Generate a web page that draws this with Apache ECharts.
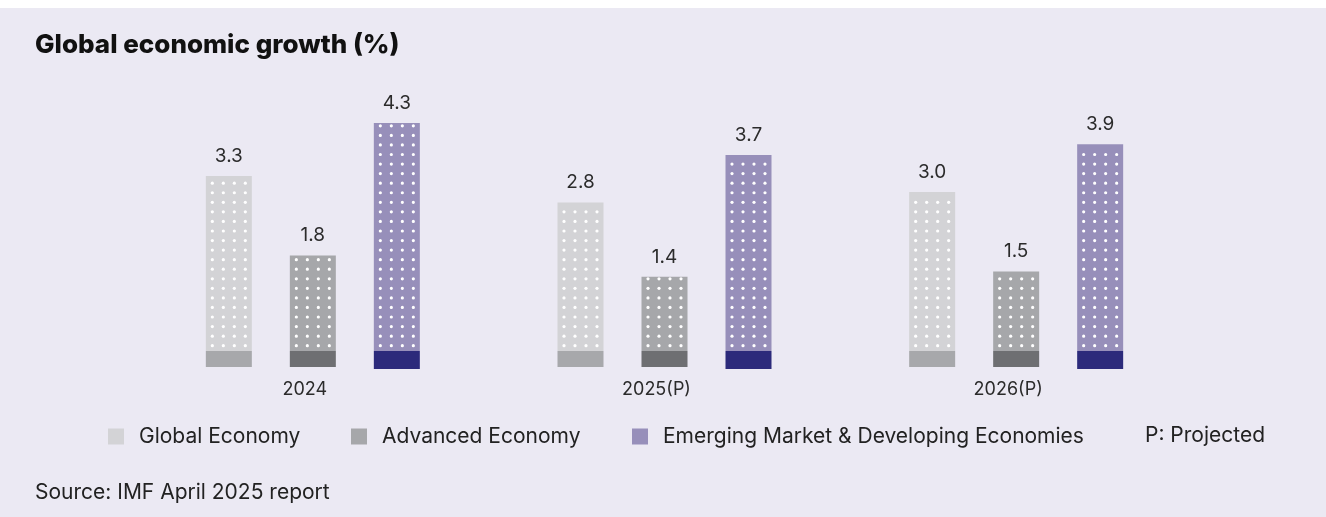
<!DOCTYPE html>
<html>
<head>
<meta charset="utf-8">
<script src="https://cdn.jsdelivr.net/npm/echarts@6/dist/echarts.min.js"></script>
<style>
    html, body { margin: 0; padding: 0; background: #ffffff; }
    #main { position: absolute; left: 0; top: 8px; width: 1326px; height: 509px; background: #ebe9f3; }
</style>
</head>
<body>
<div id="main"></div>
<script>
// 数据
var years = ['2024', '2025(P)', '2026(P)'];
var seriesNames = ['Global Economy', 'Advanced Economy', 'Emerging Market & Developing Economies'];
var globalEconomy = [3.3, 2.8, 3.0];
var advancedEconomy = [1.8, 1.4, 1.5];
var emergingEconomies = [4.3, 3.7, 3.9];

var fillColors = ['#d3d3d6', '#a6a7aa', '#978fba'];
var baseColors = ['#a7a8ab', '#6e6f72', '#2c2a7b'];
var baseDepth = [16, 16, 18];
var FONT = 'Inter, "Noto Sans", sans-serif';

var myChart = echarts.init(document.getElementById('main'));

// 柱子 + 圆点
function makeRender(idx) {
    return function(params, api) {
        var cat = api.value(0);
        var val = api.value(1);
        var top = api.coord([cat, val]);
        var zero = api.coord([cat, 0]);
        var barW = 46;
        var step = 84;
        var left = top[0] + (idx - 1) * step - barW / 2;
        var children = [];
        children.push({
            type: 'rect',
            shape: {x: left, y: top[1], width: barW, height: zero[1] - top[1]},
            style: {fill: fillColors[idx]}
        });
        children.push({
            type: 'rect',
            shape: {x: left, y: zero[1], width: barW, height: baseDepth[idx]},
            style: {fill: baseColors[idx]}
        });
        for (var k = 0; ; k++) {
            var cy = zero[1] - 5.3 - 9.56 * k;
            if (cy < top[1] + 1.5) break;
            for (var c = 0; c < 4; c++) {
                children.push({
                    type: 'circle',
                    shape: {cx: left + 6.5 + 11 * c, cy: cy, r: 1.6},
                    style: {fill: '#ffffff'}
                });
            }
        }
        children.push({
            type: 'text',
            style: {
                text: val.toFixed(1),
                x: left + barW / 2,
                y: top[1] - 20,
                align: 'center',
                verticalAlign: 'middle',
                fill: '#2b2b2b',
                font: '19px ' + FONT
            }
        });
        return {type: 'group', children: children};
    };
}

function toData(arr) {
    var out = [];
    for (var i = 0; i < arr.length; i++) {
        out.push([i, arr[i]]);
    }
    return out;
}

var allValues = [globalEconomy, advancedEconomy, emergingEconomies];
var series = [];
for (var s = 0; s < 3; s++) {
    series.push({
        name: seriesNames[s],
        type: 'custom',
        clip: false,
        itemStyle: {color: fillColors[s]},
        encode: {x: 0, y: 1},
        renderItem: makeRender(s),
        data: toData(allValues[s])
    });
}

var legendLefts = [108, 351, 632];
var legends = [];
for (var j = 0; j < 3; j++) {
    legends.push({
        data: [seriesNames[j]],
        left: legendLefts[j],
        top: 418,
        padding: 0,
        icon: 'rect',
        itemWidth: 16,
        itemHeight: 16,
        selectedMode: false,
        textStyle: {fontFamily: FONT, fontSize: 21, color: '#222222', padding: [0, 0, 0, 10]}
    });
}

option = {
    animation: false,
    textStyle: {fontFamily: FONT},
    grid: {left: 137, right: 134, top: 78, bottom: 166},
    xAxis: {
        type: 'category',
        data: years,
        axisLine: {show: false},
        axisTick: {show: false},
        axisLabel: {margin: 30, fontSize: 18, color: '#2b2b2b', fontFamily: FONT, padding: [0, 16, 0, 0]}
    },
    yAxis: {
        type: 'value',
        min: 0,
        max: 5,
        show: false,
        splitLine: {show: false}
    },
    legend: legends,
    graphic: [
        {
            type: 'text', left: 35, top: 24,
            style: {text: 'Global economic growth (%)', font: '800 26px ' + FONT, fill: '#111111'}
        },
        {
            type: 'text', left: 1145, top: 417,
            style: {text: 'P: Projected', font: '21px ' + FONT, fill: '#222222'}
        },
        {
            type: 'text', left: 35, top: 474,
            style: {text: 'Source: IMF April 2025 report', font: '21px ' + FONT, fill: '#222222'}
        }
    ],
    series: series
};

myChart.setOption(option);
</script>
</body>
</html>
